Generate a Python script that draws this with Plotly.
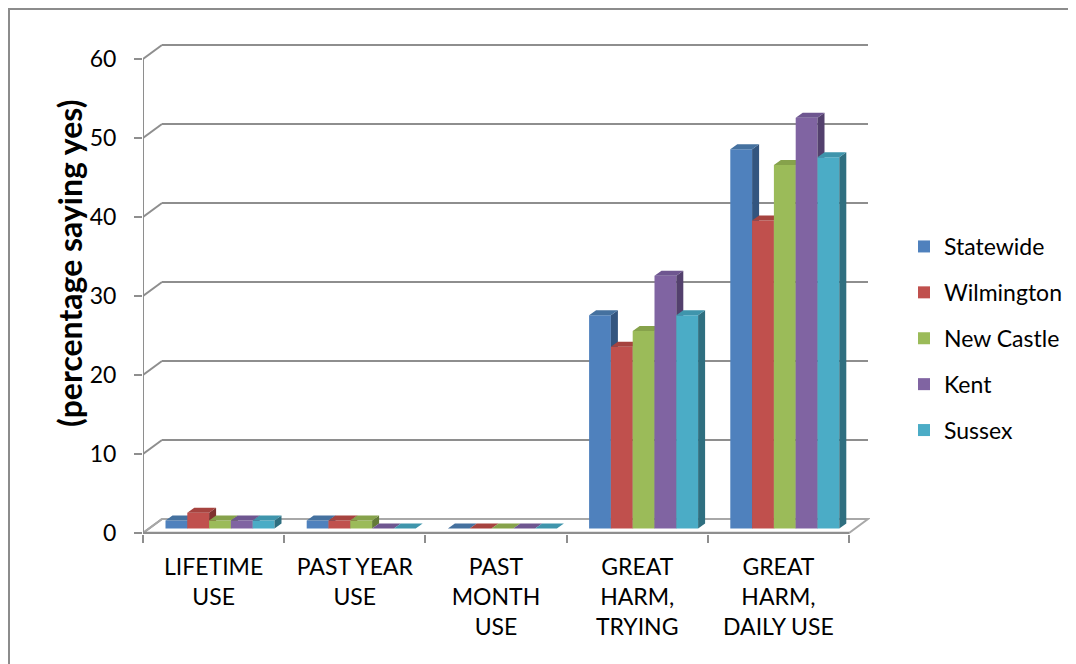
import plotly.graph_objects as go

categories = ["LIFETIME<br>USE", "PAST YEAR<br>USE", "PAST<br>MONTH<br>USE",
              "GREAT<br>HARM,<br>TRYING", "GREAT<br>HARM,<br>DAILY USE"]
series_names = ["Statewide", "Wilmington", "New Castle", "Kent", "Sussex"]
statewide = [1, 1, 0, 27, 48]
wilmington = [2, 1, 0, 23, 39]
new_castle = [1, 1, 0, 25, 46]
kent = [1, 0, 0, 32, 52]
sussex = [1, 0, 0, 27, 47]
y_ticks = [0, 10, 20, 30, 40, 50, 60]

series_values = [statewide, wilmington, new_castle, kent, sussex]
front_colors = ["#4F81BD", "#C0504D", "#9BBB59", "#8064A2", "#4BACC6"]
top_colors = ["#45719F", "#A6433F", "#86A24B", "#6E5690", "#3F95AC"]
side_colors = ["#33557F", "#7F322F", "#637A38", "#53406D", "#2F6F80"]

# figure geometry (pixels); the page body adds an 8px offset, compensate for it
OFF = 8
W, H = 1076, 664
L, R, T, B = 143 - OFF, 870 - OFF, 40 - OFF, 534 - OFF
CAT_PX = 141.2
PX_PER_UNIT = 7.9
Y0_PX = 533 - OFF
x_range = [-0.5, -0.5 + (R - L) / CAT_PX]
y_range = [-(B - Y0_PX) / PX_PER_UNIT, (Y0_PX - T) / PX_PER_UNIT]


def px_x(px):
    return (px - OFF - L) / (R - L)


def px_y(py):
    return (B - (py - OFF)) / (B - T)


# 3D depth offsets in axis units
wall_dx = 19 / CAT_PX
wall_dy = 14 / PX_PER_UNIT
bar_dx = 7 / CAT_PX
bar_dy = 5 / PX_PER_UNIT
bar_base = 4.5 / PX_PER_UNIT
bar_shift = 6.4 / CAT_PX
bar_w = 21.8 / CAT_PX
n_series = len(series_values)

fig = go.Figure()

grey = "#8E8E8E"
shapes = []
# back wall gridlines and side wall diagonals
for v in y_ticks:
    shapes.append(dict(type="line", xref="x", yref="y", layer="below",
                       x0=-0.5 + wall_dx, x1=4.5 + wall_dx, y0=v + wall_dy, y1=v + wall_dy,
                       line=dict(color=grey, width=2)))
    shapes.append(dict(type="line", xref="x", yref="y", layer="below",
                       x0=-0.5, x1=-0.5 + wall_dx, y0=v, y1=v + wall_dy,
                       line=dict(color=grey, width=2)))
# floor plate
shapes.append(dict(type="path", xref="x", yref="y", layer="below",
                   path=f"M{-0.5},{0} L{4.5},{0} L{4.5 + wall_dx},{wall_dy} L{-0.5 + wall_dx},{wall_dy} Z",
                   fillcolor="rgba(0,0,0,0)", line=dict(color="#A8A8A8", width=2)))
shapes.append(dict(type="line", xref="x", yref="y", layer="below",
                   x0=-0.5, x1=4.5, y0=0, y1=0, line=dict(color=grey, width=2.5)))
# front vertical axis line
shapes.append(dict(type="line", xref="x", yref="y", layer="above",
                   x0=-0.5, x1=-0.5, y0=y_range[0], y1=60, line=dict(color=grey, width=2)))
# outer border of the chart area
shapes.append(dict(type="rect", xref="paper", yref="paper",
                   x0=px_x(9), x1=px_x(W + 30),
                   y0=px_y(H + 30), y1=px_y(9),
                   line=dict(color="#8C8C8C", width=2), fillcolor="rgba(0,0,0,0)"))

for j, (name, vals) in enumerate(zip(series_names, series_values)):
    fx, fy, sx, sy = [], [], [], []
    for i, v in enumerate(vals):
        x0 = i + bar_shift + (j - n_series / 2) * bar_w
        x1 = x0 + bar_w
        y0 = bar_base
        y1 = bar_base + v
        # front face
        fx += [x0, x1, x1, x0, x0, None]
        fy += [y0, y0, y1, y1, y0, None]
        # side face
        sx += [x1, x1 + bar_dx, x1 + bar_dx, x1, x1, None]
        sy += [y0, y0 + bar_dy, y1 + bar_dy, y1, y0, None]
    tx, ty = [], []
    for i, v in enumerate(vals):
        x0 = i + bar_shift + (j - n_series / 2) * bar_w
        x1 = x0 + bar_w
        y1 = bar_base + v
        tx += [x0, x1, x1 + bar_dx, x0 + bar_dx, x0, None]
        ty += [y1, y1, y1 + bar_dy, y1 + bar_dy, y1, None]
    fig.add_trace(go.Scatter(x=fx, y=fy, fill="toself", mode="none",
                             fillcolor=front_colors[j], showlegend=False,
                             hoverinfo="skip"))
    fig.add_trace(go.Scatter(x=sx, y=sy, fill="toself", mode="none",
                             fillcolor=side_colors[j], showlegend=False,
                             hoverinfo="skip"))
    fig.add_trace(go.Scatter(x=tx, y=ty, fill="toself", mode="none",
                             fillcolor=top_colors[j], showlegend=False,
                             hoverinfo="skip"))
    # legend entry
    fig.add_trace(go.Bar(x=[None], y=[None], name=name, marker_color=front_colors[j],
                         legendgroup=name, showlegend=True))

font_family = "Lato, 'Open Sans', sans-serif"
fig.update_layout(
    template="none",
    width=W, height=H,
    margin=dict(l=L, r=W - R, t=T, b=H - B, pad=0, autoexpand=False),
    plot_bgcolor="white", paper_bgcolor="white",
    font=dict(family=font_family, size=23, color="#000000"),
    shapes=shapes,
    showlegend=True,
    legend=dict(x=px_x(904), xanchor="left", y=px_y(225), yanchor="top",
                font=dict(size=23), tracegroupgap=13, bgcolor="rgba(0,0,0,0)"),
    xaxis=dict(range=x_range, showgrid=False, zeroline=False, showline=False, automargin=False,
               tickmode="array", tickvals=list(range(len(categories))), ticktext=categories,
               ticks="", ticklabelstandoff=17, tickfont=dict(size=23),
               minor=dict(tick0=-0.5, dtick=1, ticks="outside", ticklen=8,
                          tickcolor=grey, tickwidth=2, showgrid=False)),
    yaxis=dict(range=y_range, showgrid=False, zeroline=False, showline=False, automargin=False,
               tickmode="array", tickvals=y_ticks, ticks="outside", ticklen=8,
               tickcolor=grey, tickwidth=2, ticklabelstandoff=13,
               tickfont=dict(size=23)),
    annotations=[dict(text="<b>(percentage saying yes)</b>", textangle=-90,
                      xref="paper", yref="paper",
                      x=px_x(70), y=px_y(264),
                      xanchor="center", yanchor="middle", showarrow=False,
                      font=dict(size=32, family=font_family))],
    barmode="overlay",
)

fig.write_html("out.html")
